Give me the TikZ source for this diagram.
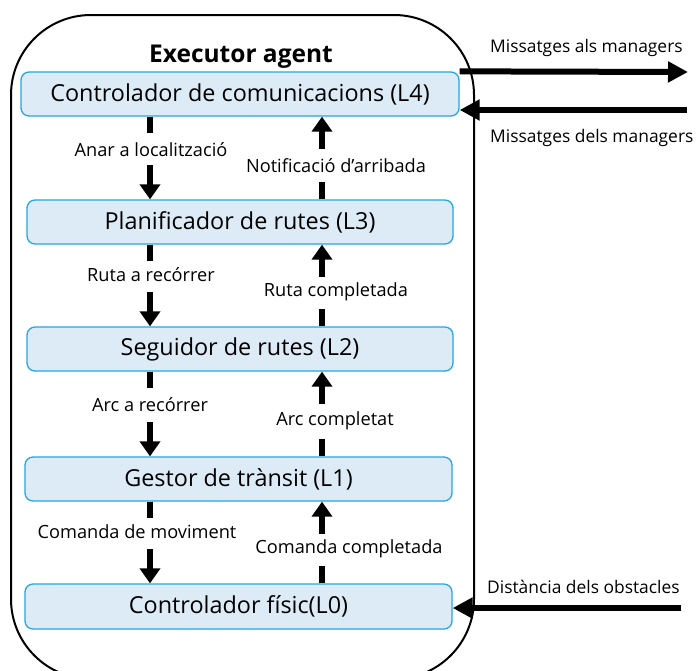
\documentclass[tikz,border=0pt]{standalone}
\usepackage{fontspec}
\setmainfont{Open Sans}
\usetikzlibrary{arrows.meta,calc}
\definecolor{boxfill}{HTML}{DDEBF7}
\definecolor{boxline}{HTML}{25A6E0}
\tikzset{
  layer/.style={draw=boxline, fill=boxfill, line width=1.3pt, rounded corners=8pt,
    minimum height=44pt, inner sep=0pt, font=\fontsize{23.4}{27}\selectfont},
  lab/.style={inner sep=0pt, font=\fontsize{18.2}{21}\selectfont},
  extlab/.style={inner sep=0pt, anchor=west, font=\fontsize{17.4}{20}\selectfont},
  seg/.style={line width=6pt},
  arr/.style={line width=6pt, -{Triangle[width=20pt,length=15pt]}},
  bigarr/.style={line width=6pt, -{Triangle[width=20pt,length=20pt]}},
}
\begin{document}
\begin{tikzpicture}[x=1pt,y=-1pt]
\useasboundingbox (0,0) rectangle (700,670);
\begin{scope}
\clip (0,0) rectangle (700,670);
\draw[line width=2pt, rounded corners=80pt] (11,15) rectangle (474,679);
\end{scope}
\node[font=\bfseries\fontsize{24.5}{28}\selectfont, inner sep=0pt] (title) at (241,57) {Executor agent};
\node[layer, minimum width=438pt] (L4) at (240,94) {Controlador de comunicacions (L4)};
\node[layer, minimum width=426pt] (L3) at (240,222) {Planificador de rutes (L3)};
\node[layer, minimum width=426pt] (L2) at (240,349) {Seguidor de rutes (L2)};
\node[layer, minimum width=427pt] (L1) at (238.5,479) {Gestor de tr\`ansit (L1)};
\node[layer, minimum width=427pt, minimum height=45pt] (L0) at (238.5,606.5) {Controlador f\'isic(L0)};
\coordinate (xl) at (150,0);
\coordinate (xr) at (322,0);
% labels
\node[lab] (d4) at (151,150) {Anar a localitzaci\'o};
\node[lab] (u4) at (336,166) {Notificaci\'o d’arribada};
\node[lab] (d3) at (151,275) {Ruta a rec\'orrer};
\node[lab] (u3) at (336,292) {Ruta completada};
\node[lab] (d2) at (150,405) {Arc a rec\'orrer};
\node[lab] (u2) at (335,421) {Arc completat};
\node[lab] (d1) at (137,532) {Comanda de moviment};
\node[lab] (u1) at (349,549) {Comanda completada};
% down arrows
\foreach \a/\b in {L4/L3,L3/L2,L2/L1,L1/L0}{
  \draw[seg] (\a.south -| xl) -- ++(0,16);
  \draw[arr] ($(\b.north -| xl)+(0,-34)$) -- (\b.north -| xl);
}
% up arrows
\foreach \a/\b in {L3/L4,L2/L3,L1/L2,L0/L1}{
  \draw[seg] (\a.north -| xr) -- ++(0,-17);
  \draw[arr] ($(\b.south -| xr)+(0,32)$) -- (\b.south -| xr);
}
% external
\coordinate (o1) at (688,72);
\coordinate (i1) at (687,110);
\coordinate (i0) at (681,608);
\draw[bigarr] (L4.north east) -- (o1);
\draw[bigarr] (i1) -- (i1 -| L4.east);
\draw[bigarr] (i0) -- (i0 -| L0.east);
\node[extlab] (m1) at (490,48) {Missatges als managers};
\node[extlab] (m2) at (490,138) {Missatges dels managers};
\node[extlab] (m3) at (487,587) {Dist\`ancia dels obstacles};
\end{tikzpicture}
\end{document}
